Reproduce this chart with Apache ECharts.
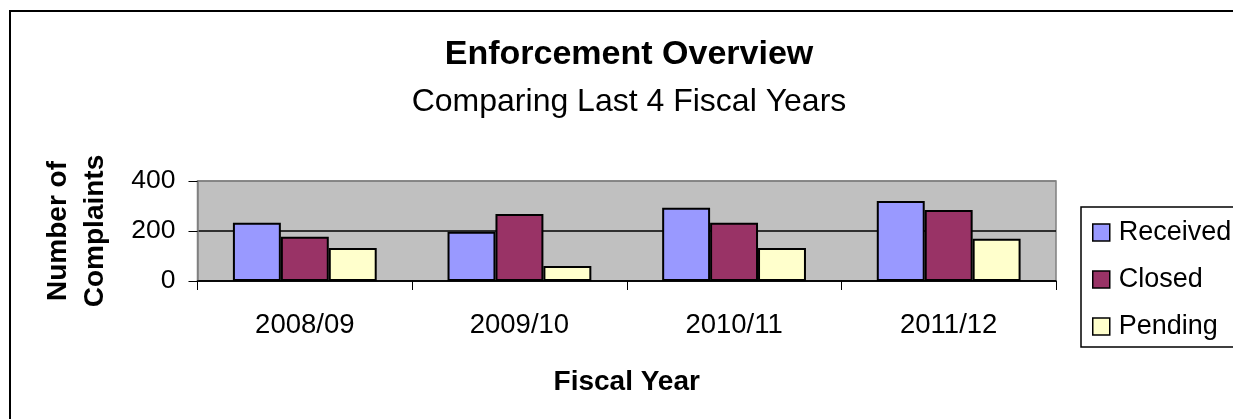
<!DOCTYPE html>
<html>
<head>
<meta charset="utf-8">
<title>Enforcement Overview</title>
<script src="https://cdn.jsdelivr.net/npm/echarts@6/dist/echarts.min.js"></script>
<style>
  html, body { margin: 0; padding: 0; background: #ffffff; }
  #chart { width: 1233px; height: 419px; }
</style>
</head>
<body>
<div id="chart"></div>
<script>
// Fiscal years on the category axis
const fiscalYears = ['2008/09', '2009/10', '2010/11', '2011/12'];

// Complaint counts per fiscal year
const received = [233, 197, 293, 320];
const closed = [177, 268, 233, 284];
const pending = [132, 60, 132, 169];

// Value axis range and step
const yMin = 0;
const yMax = 400;
const yStep = 200;

const FONT = '"Liberation Sans", Arial, sans-serif';

const chart = echarts.init(document.getElementById('chart'), null, { renderer: 'canvas' });

function barSeries(name, data, color) {
  return {
    name: name,
    type: 'bar',
    data: data,
    barGap: '0%',
    barCategoryGap: '33%',
    itemStyle: { color: color, borderColor: '#000000', borderWidth: 2 },
    emphasis: { disabled: true },
    animation: false
  };
}

chart.setOption({
  backgroundColor: '#ffffff',
  animation: false,
  textStyle: { fontFamily: FONT },
  graphic: [
    {
      // outer chart-area frame
      type: 'rect',
      z: -10,
      shape: { x: 10, y: 11, width: 1400, height: 600 },
      style: { fill: 'none', stroke: '#000000', lineWidth: 2 }
    }
  ],
  title: [
    {
      text: 'Enforcement Overview',
      left: 629,
      top: 38,
      textAlign: 'center',
      padding: 0,
      textStyle: { fontFamily: FONT, fontSize: 34, fontWeight: 'bold', color: '#000000' }
    },
    {
      text: 'Comparing Last 4 Fiscal Years',
      left: 629,
      top: 86,
      textAlign: 'center',
      padding: 0,
      textStyle: { fontFamily: FONT, fontSize: 32, fontWeight: 'normal', color: '#000000' }
    }
  ],
  legend: {
    orient: 'vertical',
    left: 1081,
    top: 207,
    padding: [12, 80, 7, 11],
    itemGap: 20,
    itemWidth: 17,
    itemHeight: 17,
    icon: 'rect',
    backgroundColor: '#ffffff',
    borderColor: '#000000',
    borderWidth: 1.5,
    selectedMode: false,
    itemStyle: { borderColor: '#000000', borderWidth: 1.5 },
    textStyle: { fontFamily: FONT, fontSize: 27, color: '#000000', padding: [0, 0, 0, 4] },
    data: ['Received', 'Closed', 'Pending']
  },
  grid: {
    left: 197.5,
    right: 177,
    top: 181,
    bottom: 138,
    show: true,
    backgroundColor: '#c0c0c0',
    borderColor: '#808080',
    borderWidth: 1.5
  },
  xAxis: {
    type: 'category',
    data: fiscalYears,
    name: 'Fiscal Year',
    nameLocation: 'middle',
    nameGap: 87,
    nameTextStyle: { fontFamily: FONT, fontSize: 28, fontWeight: 'bold', color: '#000000' },
    axisLine: { show: true, lineStyle: { color: '#000000', width: 1.5 } },
    axisTick: { show: true, inside: false, length: 9, alignWithLabel: false, lineStyle: { color: '#000000', width: 1 } },
    axisLabel: { fontFamily: FONT, fontSize: 27.5, color: '#000000', margin: 30 },
    splitLine: { show: false }
  },
  yAxis: {
    type: 'value',
    min: yMin,
    max: yMax,
    interval: yStep,
    name: 'Number of\nComplaints',
    nameLocation: 'middle',
    nameRotate: 90,
    nameGap: 84,
    nameTextStyle: { fontFamily: FONT, fontSize: 28, fontWeight: 'bold', color: '#000000', lineHeight: 37 },
    axisLine: { show: true, lineStyle: { color: '#808080', width: 1.5 } },
    axisTick: { show: true, inside: false, length: 9, lineStyle: { color: '#000000', width: 1 } },
    axisLabel: { fontFamily: FONT, fontSize: 26.5, color: '#000000', margin: 22 },
    splitLine: { show: true, lineStyle: { color: ['#000000', '#000000', '#808080'], width: 1.5 } }
  },
  series: [
    barSeries('Received', received, '#9999ff'),
    barSeries('Closed', closed, '#993366'),
    barSeries('Pending', pending, '#ffffcc')
  ]
});
</script>
</body>
</html>
